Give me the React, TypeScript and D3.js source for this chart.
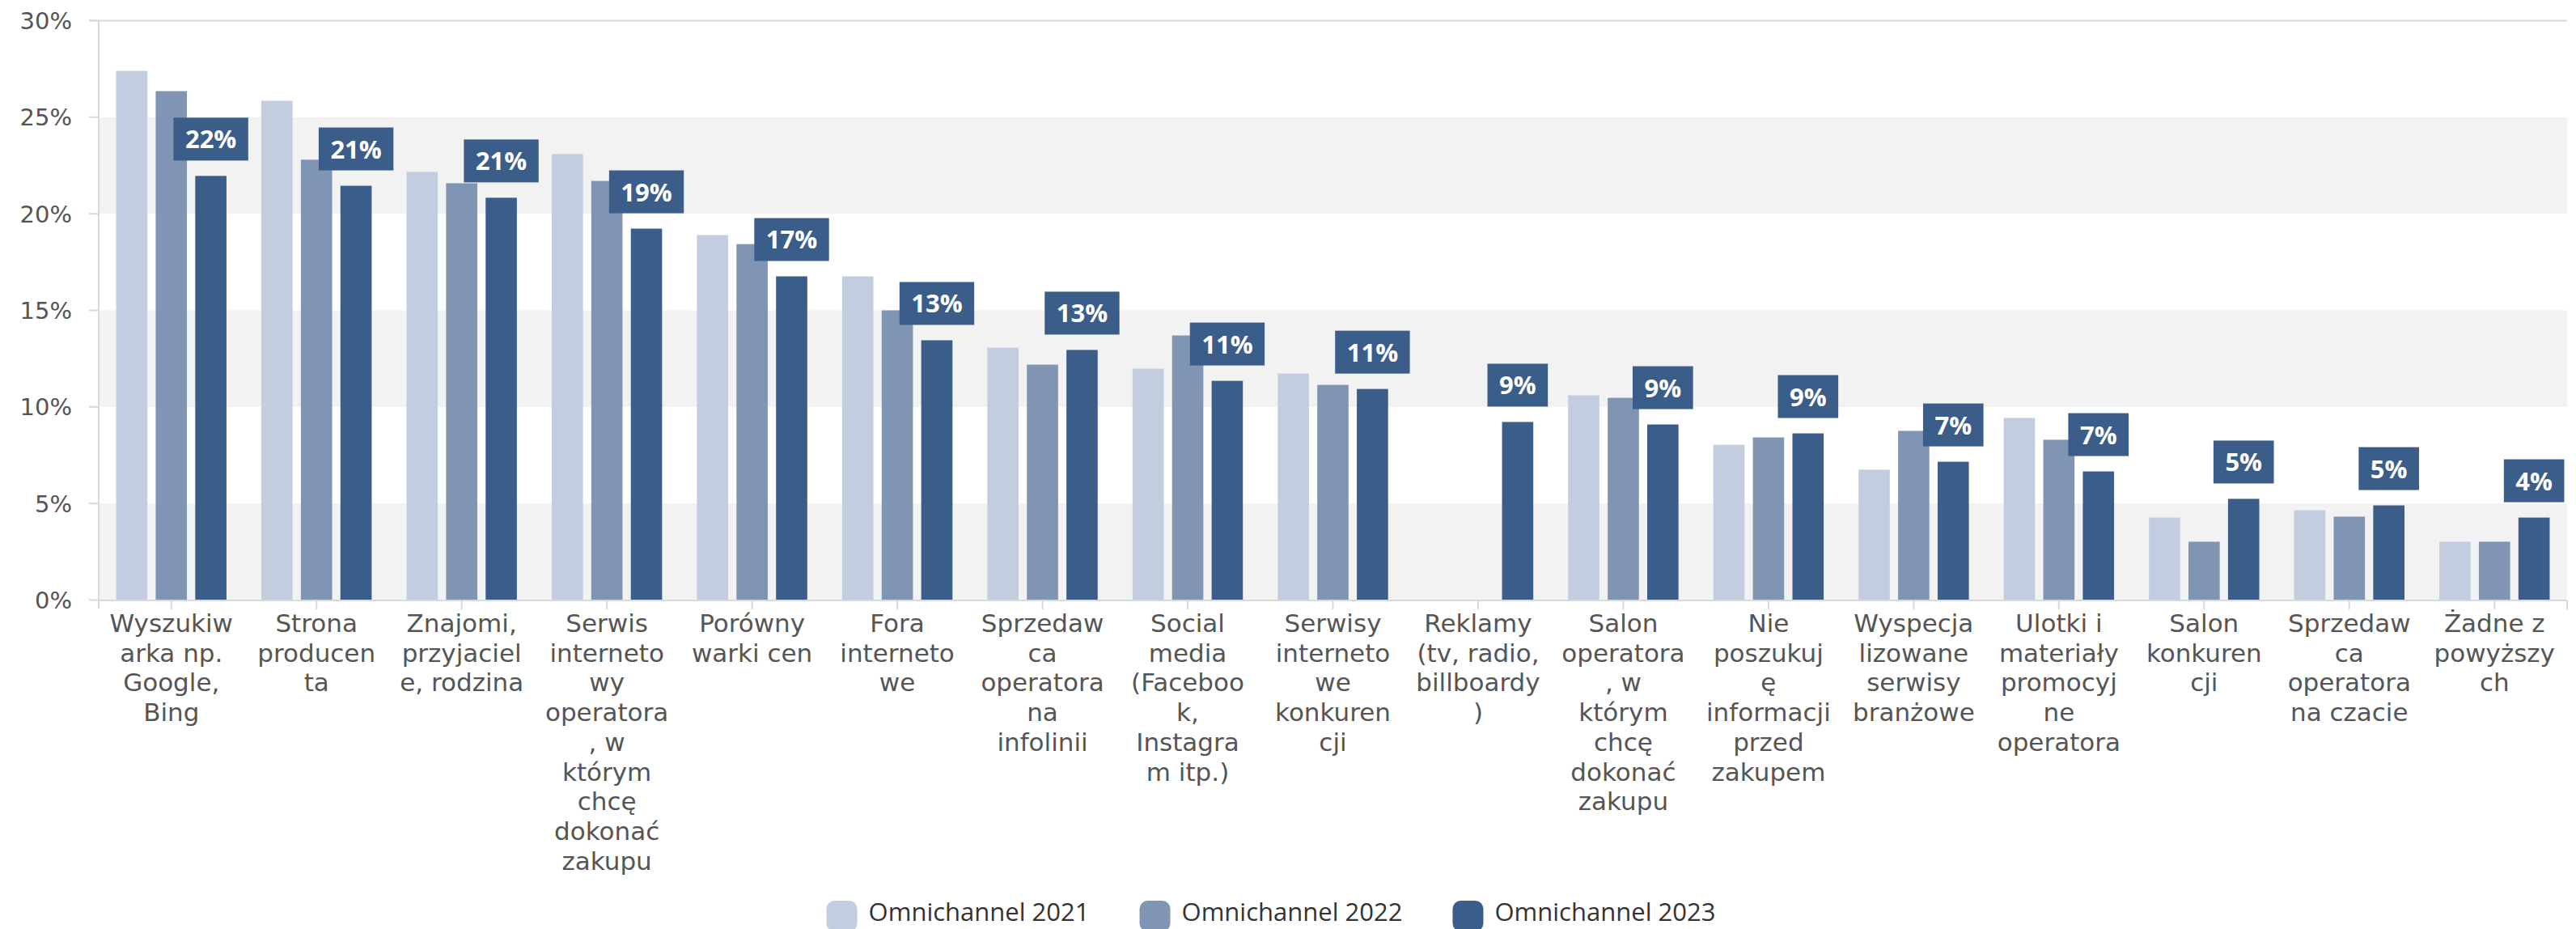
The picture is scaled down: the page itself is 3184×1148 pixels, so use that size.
import React from "react";
import * as d3 from "d3";

const categoryLines: string[][] = [
  ["Wyszukiw", "arka np.", "Google,", "Bing"],
  ["Strona", "producen", "ta"],
  ["Znajomi,", "przyjaciel", "e, rodzina"],
  ["Serwis", "interneto", "wy", "operatora", ", w", "którym", "chcę", "dokonać", "zakupu"],
  ["Porówny", "warki cen"],
  ["Fora", "interneto", "we"],
  ["Sprzedaw", "ca", "operatora", "na", "infolinii"],
  ["Social", "media", "(Faceboo", "k,", "Instagra", "m itp.)"],
  ["Serwisy", "interneto", "we", "konkuren", "cji"],
  ["Reklamy", "(tv, radio,", "billboardy", ")"],
  ["Salon", "operatora", ", w", "którym", "chcę", "dokonać", "zakupu"],
  ["Nie", "poszukuj", "ę", "informacji", "przed", "zakupem"],
  ["Wyspecja", "lizowane", "serwisy", "branżowe"],
  ["Ulotki i", "materiały", "promocyj", "ne", "operatora"],
  ["Salon", "konkuren", "cji"],
  ["Sprzedaw", "ca", "operatora", "na czacie"],
  ["Żadne z", "powyższy", "ch"],
];

const seriesNames = ["Omnichannel 2021", "Omnichannel 2022", "Omnichannel 2023"];
const seriesColors = ["#c3cde0", "#8095b4", "#3b5d8a"];

const values2021: (number | null)[] = [27.4, 25.85, 22.17, 23.09, 18.9, 16.76, 13.07, 11.98, 11.73, null, 10.6, 8.04, 6.75, 9.43, 4.27, 4.65, 3.02];
const values2022: (number | null)[] = [26.35, 22.8, 21.58, 21.7, 18.43, 15.0, 12.19, 13.7, 11.14, null, 10.47, 8.42, 8.76, 8.3, 3.02, 4.32, 3.02];
const values2023: (number | null)[] = [21.96, 21.45, 20.83, 19.23, 16.76, 13.45, 12.95, 11.35, 10.93, 9.22, 9.09, 8.63, 7.16, 6.66, 5.24, 4.9, 4.27];

const yTicks = [0, 5, 10, 15, 20, 25, 30];

const W = 3184;
const H = 1148;

let measureCtx: CanvasRenderingContext2D | null = null;
function measure(text: string, font: string): number {
  if (!measureCtx) {
    const c = document.createElement("canvas");
    measureCtx = c.getContext("2d");
  }
  if (!measureCtx) return text.length * 16;
  measureCtx.font = font;
  return measureCtx.measureText(text).width;
}

export default function App() {
  const seriesValues = [values2021, values2022, values2023];
  const cats = categoryLines.map((_, i) => String(i));

  const plotLeft = 122;
  const plotRight = 3173;
  const x0 = d3.scaleBand<string>().domain(cats).range([plotLeft, plotRight]).paddingInner(0).paddingOuter(0);
  const bw = x0.bandwidth();
  const x1 = d3
    .scaleBand<string>()
    .domain(seriesNames)
    .range([bw * 0.12, bw * 0.88])
    .paddingInner(0.21)
    .paddingOuter(0);
  const y = d3.scaleLinear().domain([0, 30]).range([741.5, 25.5]);

  const axisFont = "DejaVu Sans, sans-serif";
  const labelFont = "'Open Sans', sans-serif";
  const labelFontSize = 31;
  const legendFontSize = 31;

  // legend layout
  const markerW = 38;
  const markerGap = 14;
  const itemGap = 62;
  const legendWidths = seriesNames.map(
    (n) => markerW + markerGap + measure(n, `${legendFontSize}px 'Open Sans'`)
  );
  const legendTotal = legendWidths.reduce((a, b) => a + b, 0) + itemGap * (seriesNames.length - 1);
  const legendCenter = 1571;
  let lx = legendCenter - legendTotal / 2;
  const legendX = legendWidths.map((w) => {
    const v = lx;
    lx += w + itemGap;
    return v;
  });

  const bands: [number, number][] = [
    [0, 5],
    [10, 15],
    [20, 25],
  ];

  return (
    <svg
      width={W}
      height={H}
      style={{ position: "absolute", left: 0, top: 0, background: "#fff" }}
      xmlns="http://www.w3.org/2000/svg"
    >
      <rect x={0} y={0} width={W} height={H} fill="#ffffff" />
      {/* plot bands */}
      {bands.map(([a, b], i) => (
        <rect key={i} x={plotLeft} y={y(b)} width={plotRight - plotLeft} height={y(a) - y(b)} fill="#f2f2f2" />
      ))}
      {/* top gridline */}
      <line x1={110} x2={plotRight} y1={y(30)} y2={y(30)} stroke="#d9d9d9" strokeWidth={2} />
      {/* y axis line */}
      <line x1={plotLeft} x2={plotLeft} y1={y(30)} y2={752} stroke="#d9d9d9" strokeWidth={2} />
      {yTicks.map((t) => (
        <g key={t}>
          <line x1={110} x2={plotLeft} y1={y(t)} y2={y(t)} stroke="#d9d9d9" strokeWidth={2} />
          <text
            x={89}
            y={y(t) + 10.5}
            textAnchor="end"
            fontFamily={axisFont}
            fontSize={29}
            fill="#555555"
          >
            {`${t}%`}
          </text>
        </g>
      ))}
      {/* bars */}
      {cats.map((c, ci) => (
        <g key={c} transform={`translate(${x0(c)},0)`}>
          {seriesNames.map((s, si) => {
            const v = seriesValues[si][ci];
            if (v == null) return null;
            return (
              <rect
                key={s}
                x={x1(s)}
                y={y(v)}
                width={x1.bandwidth()}
                height={y(0) - y(v)}
                fill={seriesColors[si]}
              />
            );
          })}
        </g>
      ))}
      {/* x axis line */}
      <line x1={plotLeft} x2={plotRight} y1={742} y2={742} stroke="#d9d9d9" strokeWidth={2} />
      <line x1={plotRight} x2={plotRight} y1={742} y2={753} stroke="#d9d9d9" strokeWidth={2} />
      {cats.map((c, ci) => {
        const cx = (x0(c) as number) + bw / 2;
        return (
          <g key={c}>
            <line x1={cx} x2={cx} y1={742} y2={753} stroke="#d9d9d9" strokeWidth={2} />
            <text textAnchor="middle" fontFamily={axisFont} fontSize={31} fill="#555555">
              {categoryLines[ci].map((ln, li) => (
                <tspan key={li} x={cx} y={781 + li * 36.7}>
                  {ln}
                </tspan>
              ))}
            </text>
          </g>
        );
      })}
      {/* data labels for 2023 */}
      {cats.map((c, ci) => {
        const v = values2023[ci];
        if (v == null) return null;
        const cx = (x0(c) as number) + (x1(seriesNames[2]) as number) + x1.bandwidth() / 2;
        const txt = `${Math.round(v)}%`;
        const tw = measure(txt, `bold ${labelFontSize}px 'Open Sans'`);
        const boxW = tw + 29;
        const boxH = 53;
        const boxBottom = y(v) - 19;
        return (
          <g key={c}>
            <rect x={cx - boxW / 2} y={boxBottom - boxH} width={boxW} height={boxH} fill="#3b5d8a" />
            <text
              x={cx}
              y={boxBottom - 15}
              textAnchor="middle"
              fontFamily={labelFont}
              fontWeight="bold"
              fontSize={labelFontSize}
              fill="#ffffff"
            >
              {txt}
            </text>
          </g>
        );
      })}
      {/* legend */}
      {seriesNames.map((s, i) => (
        <g key={s}>
          <rect x={legendX[i]} y={1113} width={markerW} height={markerW} rx={10} ry={10} fill={seriesColors[i]} />
          <text
            x={legendX[i] + markerW + markerGap}
            y={1138}
            fontFamily={labelFont}
            fontSize={legendFontSize}
            fill="#333333"
          >
            {s}
          </text>
        </g>
      ))}
    </svg>
  );
}
